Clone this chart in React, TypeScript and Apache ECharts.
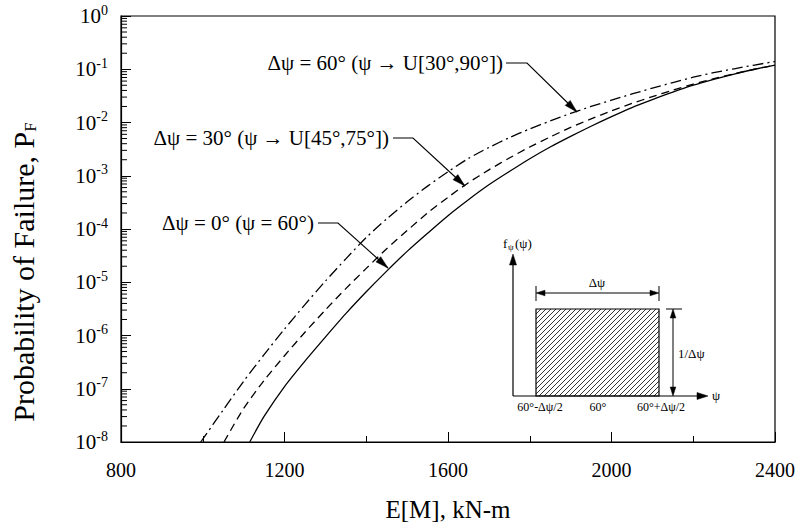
import React, { useEffect, useRef } from "react";
import * as echarts from "echarts";

// ---- data (E[M] in kN-m, probability of failure) ----
const xTickLabels = [800, 1200, 1600, 2000, 2400];
const yDecadeLabels = ["10^0", "10^-1", "10^-2", "10^-3", "10^-4", "10^-5", "10^-6", "10^-7", "10^-8"];

const solidX = [1115, 1150, 1200, 1250, 1300, 1350, 1400, 1450, 1500, 1550, 1600, 1650, 1700, 1750, 1800, 1850, 1900, 1950, 2000, 2050, 2100, 2150, 2200, 2250, 2300, 2350, 2400];
const solidP = [1.0e-8, 3.02e-8, 1.10e-7, 3.31e-7, 9.33e-7, 2.57e-6, 6.61e-6, 1.62e-5, 3.80e-5, 8.32e-5, 1.78e-4, 3.55e-4, 6.76e-4, 1.20e-3, 2.09e-3, 3.47e-3, 5.50e-3, 8.51e-3, 1.29e-2, 1.91e-2, 2.69e-2, 3.72e-2, 5.01e-2, 6.46e-2, 8.13e-2, 1.00e-1, 1.20e-1];

const dashedX = [1052, 1100, 1150, 1200, 1250, 1300, 1350, 1400, 1450, 1500, 1550, 1600, 1650, 1700, 1750, 1800, 1850, 1900, 1950, 2000, 2050, 2100, 2150, 2200, 2250, 2300, 2350, 2400];
const dashedP = [1.0e-8, 4.27e-8, 1.43e-7, 4.17e-7, 1.15e-6, 3.02e-6, 7.59e-6, 1.82e-5, 4.27e-5, 9.33e-5, 2.00e-4, 3.94e-4, 7.41e-4, 1.29e-3, 2.15e-3, 3.47e-3, 5.35e-3, 8.07e-3, 1.17e-2, 1.66e-2, 2.28e-2, 3.06e-2, 4.06e-2, 5.27e-2, 6.64e-2, 8.22e-2, 1.00e-1, 1.20e-1];

const dashDotX = [995, 1050, 1100, 1150, 1200, 1250, 1300, 1350, 1400, 1450, 1500, 1550, 1600, 1650, 1700, 1750, 1800, 1850, 1900, 1950, 2000, 2050, 2100, 2150, 2200, 2250, 2300, 2350, 2400];
const dashDotP = [1.0e-8, 3.98e-8, 1.38e-7, 4.37e-7, 1.32e-6, 3.80e-6, 1.05e-5, 2.75e-5, 6.92e-5, 1.55e-4, 3.24e-4, 6.38e-4, 1.19e-3, 2.11e-3, 3.39e-3, 5.19e-3, 7.59e-3, 1.07e-2, 1.48e-2, 2.00e-2, 2.63e-2, 3.43e-2, 4.42e-2, 5.62e-2, 7.08e-2, 8.61e-2, 1.02e-1, 1.20e-1, 1.40e-1];

const seriesNames = [
  "Δψ = 0° (ψ = 60°)",
  "Δψ = 30° (ψ → U[45°,75°])",
  "Δψ = 60° (ψ → U[30°,90°])",
];

const insetLabels = ["60°-Δψ/2", "60°", "60°+Δψ/2"];

const FONT = "'Liberation Serif', 'Times New Roman', 'DejaVu Serif', serif";

function arrowHead(tip: number[], from: number[], len = 12, half = 3.2) {
  const dx = tip[0] - from[0];
  const dy = tip[1] - from[1];
  const d = Math.hypot(dx, dy);
  const ux = dx / d, uy = dy / d;
  const bx = tip[0] - ux * len, by = tip[1] - uy * len;
  return {
    type: "polygon",
    shape: { points: [tip, [bx - uy * half, by + ux * half], [bx + uy * half, by - ux * half]] },
    style: { fill: "#000", stroke: "#000", lineWidth: 0.5 },
    silent: true,
  };
}

function lineEl(x1: number, y1: number, x2: number, y2: number, w = 1) {
  return { type: "line", shape: { x1, y1, x2, y2 }, style: { stroke: "#000", lineWidth: w }, silent: true };
}

function textEl(text: string, x: number, y: number, size: number, align = "left", rich?: any) {
  return {
    type: "text",
    x,
    y,
    silent: true,
    style: { text, fontSize: size, fontFamily: FONT, fill: "#000", align, verticalAlign: "middle", rich },
  };
}

function buildGraphics() {
  const g: any[] = [];
  // annotation leaders
  const ann = [
    { text: seriesNames[2], tx: 503, ty: 63, pts: [[506, 63], [527, 63], [577, 112]] },
    { text: seriesNames[1], tx: 389, ty: 138, pts: [[393, 138], [413, 138], [465, 186]] },
    { text: seriesNames[0], tx: 314, ty: 223, pts: [[318, 223], [338, 223], [388, 268]] },
  ];
  ann.forEach((a) => {
    g.push(textEl(a.text, a.tx, a.ty, 21, "right"));
    g.push({ type: "polyline", shape: { points: a.pts }, style: { stroke: "#000", lineWidth: 1.1, fill: null }, silent: true });
    g.push(arrowHead(a.pts[2], a.pts[1], 13, 3.5));
  });

  // inset: axes
  g.push(lineEl(513, 396, 513, 262, 1.2));
  g.push(arrowHead([513, 254], [513, 396], 11, 3.5));
  g.push(lineEl(513, 396, 700, 396, 1.2));
  g.push(arrowHead([708, 396], [513, 396], 11, 3.5));
  g.push(textEl("ψ", 712, 395, 13, "left"));
  // f_ψ(ψ) label built from three plain texts
  g.push(textEl("f", 503, 243, 13, "left"));
  g.push(textEl("ψ", 508, 247, 9, "left"));
  g.push(textEl("(ψ)", 515, 243, 13, "left"));
  // hatched rectangle
  const x0 = 536, x1 = 659, y0 = 309, y1 = 396;
  for (let c = x0 + y0 + 5; c < x1 + y1; c += 5) {
    const xa = Math.max(x0, c - y1);
    const xb = Math.min(x1, c - y0);
    if (xb > xa) g.push(lineEl(xa, c - xa, xb, c - xb, 0.8));
  }
  g.push({ type: "rect", shape: { x: x0, y: y0, width: x1 - x0, height: y1 - y0 }, style: { fill: null, stroke: "#000", lineWidth: 1.2 }, silent: true });
  // horizontal dimension (Δψ)
  g.push(lineEl(x0, 286, x0, 301, 1));
  g.push(lineEl(x1, 286, x1, 301, 1));
  g.push(lineEl(x0 + 8, 293, x1 - 8, 293, 1));
  g.push(arrowHead([x0, 293], [x1, 293], 9, 2.8));
  g.push(arrowHead([x1, 293], [x0, 293], 9, 2.8));
  g.push(textEl("Δψ", 597, 282, 13, "center"));
  // vertical dimension (1/Δψ)
  g.push(lineEl(666, y0, 682, y0, 1));
  g.push(lineEl(673, y0 + 8, 673, y1 - 8, 1));
  g.push(arrowHead([673, y0], [673, y1], 9, 2.8));
  g.push(arrowHead([673, y1], [673, y0], 9, 2.8));
  g.push(textEl("1/Δψ", 678, 353, 13, "left"));
  // inset tick labels
  g.push(textEl(insetLabels[0], 540, 407, 12, "center"));
  g.push(textEl(insetLabels[1], 598, 407, 12, "center"));
  g.push(textEl(insetLabels[2], 661, 407, 12, "center"));

  // axis titles
  g.push(textEl("E[M], kN-m", 448, 509, 25, "center"));
  g.push({
    type: "text",
    x: 23,
    y: 272,
    rotation: Math.PI / 2,
    silent: true,
    style: {
      text: "{a|Probability of Failure, P}{s|F}",
      fontSize: 30,
      fontFamily: FONT,
      fill: "#000",
      align: "center",
      verticalAlign: "middle",
      rich: {
        a: { fontSize: 30, fontFamily: FONT, fill: "#000", color: "#000" },
        s: { fontSize: 17, fontFamily: FONT, fill: "#000", color: "#000", padding: [14, 0, 0, 0] },
      },
    },
  });
  return g;
}

export default function App() {
  const ref = useRef<HTMLDivElement>(null);
  useEffect(() => {
    if (!ref.current) return;
    const chart = echarts.init(ref.current, null, { renderer: "svg" });
    const minorTickVals: number[][] = [];
    for (let e = -8; e < 0; e++) {
      for (let k = 2; k <= 9; k++) minorTickVals.push([xTickLabels[0], k * Math.pow(10, e)]);
    }
    const lineBase = { type: "line", showSymbol: false, smooth: 0.25, clip: true, silent: true };
    chart.setOption({
      animation: false,
      backgroundColor: "#fff",
      grid: { left: 121, right: 23, top: 16, bottom: 80, show: true, borderColor: "#000", borderWidth: 1.2, backgroundColor: "transparent" },
      xAxis: {
        type: "value",
        min: 800,
        max: 2400,
        interval: 400,
        axisLine: { lineStyle: { color: "#000", width: 1.2 } },
        axisTick: { inside: true, length: 10, lineStyle: { color: "#000", width: 1 } },
        minorTick: { show: true, splitNumber: 2, length: 6, lineStyle: { color: "#000", width: 1 } },
        splitLine: { show: false },
        axisLabel: {
          color: "#000",
          fontSize: 20,
          fontFamily: FONT,
          margin: 18,
          formatter: (v: number) => (xTickLabels.indexOf(v) >= 0 ? String(v) : ""),
        },
      },
      yAxis: {
        type: "log",
        logBase: 10,
        min: 1e-8,
        max: 1,
        splitNumber: 8,
        axisLine: { lineStyle: { color: "#000", width: 1.2 } },
        axisTick: { inside: true, length: 10, lineStyle: { color: "#000", width: 1 } },
        splitLine: { show: false },
        axisLabel: {
          margin: 13,
          formatter: (v: number) => {
            const idx = -Math.round(Math.log10(v));
            const parts = yDecadeLabels[idx].split("^");
            return `{b|${parts[0]}}{s|${parts[1]}}`;
          },
          rich: {
            b: { fontSize: 21, fontFamily: FONT, color: "#000" },
            s: { fontSize: 14, fontFamily: FONT, color: "#000", padding: [0, 0, 12, 0] },
          },
        },
      },
      series: [
        {
          ...lineBase,
          name: seriesNames[0],
          data: solidX.map((x, i) => [x, solidP[i]]),
          lineStyle: { color: "#000", width: 1.3, type: "solid" },
        },
        {
          ...lineBase,
          name: seriesNames[1],
          data: dashedX.map((x, i) => [x, dashedP[i]]),
          lineStyle: { color: "#000", width: 1.3, type: [8, 5] },
        },
        {
          ...lineBase,
          name: seriesNames[2],
          data: dashDotX.map((x, i) => [x, dashDotP[i]]),
          lineStyle: { color: "#000", width: 1.3, type: [11, 4, 2, 4] },
        },
        {
          type: "custom",
          silent: true,
          clip: false,
          data: minorTickVals,
          renderItem: (_p: any, api: any) => {
            const pt = api.coord([api.value(0), api.value(1)]);
            return {
              type: "line",
              shape: { x1: pt[0], y1: pt[1], x2: pt[0] + 6, y2: pt[1] },
              style: { stroke: "#000", lineWidth: 1 },
            };
          },
        },
      ],
      graphic: buildGraphics(),
    });
    return () => chart.dispose();
  }, []);
  return <div ref={ref} style={{ position: "fixed", left: 0, top: 0, width: 798, height: 522, background: "#fff" }} />;
}
